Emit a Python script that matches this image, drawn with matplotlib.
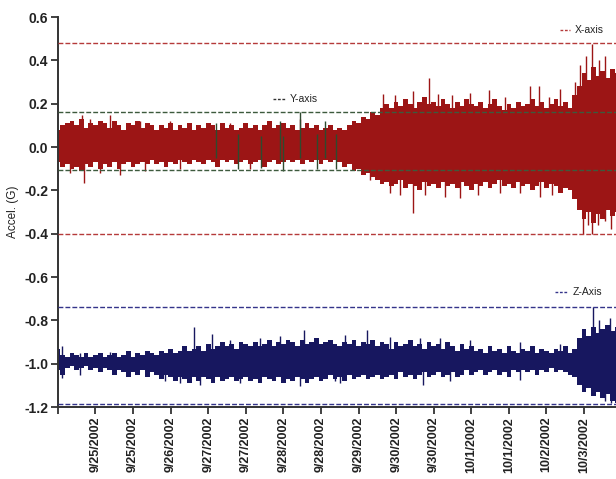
import matplotlib
matplotlib.use("Agg")
import matplotlib.pyplot as plt

# ---------------- data ----------------
# tick positions (index units) and their date labels
tick_pos = list(range(0, 15))
tick_labels = ["", "9/25/2002", "9/25/2002", "9/26/2002", "9/27/2002", "9/27/2002",
               "9/28/2002", "9/28/2002", "9/29/2002", "9/30/2002", "9/30/2002",
               "10/1/2002", "10/1/2002", "10/2/2002", "10/3/2002"]

# sample positions for envelopes (index units, 1/8 tick apart)
env_x = [i * 0.125 for i in range(120)]

# X-axis (red) envelope
x_hi = [0.08, 0.10, 0.11, 0.12, 0.10, 0.13, 0.09, 0.11, 0.10, 0.12,
        0.11, 0.09, 0.12, 0.10, 0.08, 0.11, 0.10, 0.12, 0.09, 0.11,
        0.10, 0.08, 0.10, 0.09, 0.11, 0.08, 0.10, 0.09, 0.11, 0.08,
        0.10, 0.09, 0.11, 0.10, 0.08, 0.11, 0.09, 0.10, 0.08, 0.09,
        0.11, 0.09, 0.10, 0.08, 0.10, 0.12, 0.09, 0.10, 0.11, 0.09,
        0.10, 0.08, 0.09, 0.11, 0.09, 0.10, 0.08, 0.09, 0.10, 0.08,
        0.09, 0.08, 0.10, 0.12, 0.11, 0.14, 0.13, 0.16, 0.15, 0.18,
        0.20, 0.18, 0.21, 0.19, 0.22, 0.20, 0.18, 0.21, 0.23, 0.20,
        0.21, 0.19, 0.22, 0.20, 0.18, 0.21, 0.19, 0.22, 0.20, 0.19,
        0.21, 0.18, 0.20, 0.22, 0.19, 0.17, 0.20, 0.18, 0.21, 0.19,
        0.20, 0.22, 0.19, 0.21, 0.18, 0.20, 0.22, 0.19, 0.21, 0.18,
        0.24, 0.28, 0.34, 0.31, 0.37, 0.33, 0.35, 0.32, 0.36, 0.34]
x_lo = [-0.07, -0.09, -0.08, -0.10, -0.09, -0.11, -0.08, -0.09, -0.07, -0.10,
        -0.08, -0.09, -0.07, -0.10, -0.08, -0.07, -0.09, -0.08, -0.07, -0.08,
        -0.06, -0.08, -0.07, -0.09, -0.07, -0.08, -0.06, -0.07, -0.08, -0.06,
        -0.07, -0.08, -0.06, -0.07, -0.09, -0.06, -0.07, -0.06, -0.08, -0.07,
        -0.06, -0.08, -0.07, -0.06, -0.09, -0.07, -0.06, -0.08, -0.07, -0.06,
        -0.07, -0.06, -0.08, -0.06, -0.07, -0.06, -0.08, -0.06, -0.07, -0.06,
        -0.07, -0.09, -0.08, -0.11, -0.10, -0.13, -0.12, -0.14, -0.15, -0.17,
        -0.16, -0.18, -0.17, -0.15, -0.19, -0.17, -0.18, -0.20, -0.16, -0.18,
        -0.17, -0.19, -0.16, -0.18, -0.17, -0.19, -0.16, -0.18, -0.20, -0.17,
        -0.18, -0.16, -0.19, -0.17, -0.15, -0.18, -0.17, -0.19, -0.16, -0.18,
        -0.17, -0.20, -0.18, -0.16, -0.19, -0.17, -0.18, -0.21, -0.19, -0.20,
        -0.24, -0.29, -0.33, -0.30, -0.35, -0.31, -0.33, -0.29, -0.32, -0.30]
x_spike_pos = [0.64, 0.85, 1.38, 2.18, 2.98, 4.57, 5.64, 6.44, 8.64, 8.96, 9.44, 9.87,
               10.11, 10.48, 10.96, 11.46, 11.89, 12.55, 12.79, 13.06, 13.35, 13.75,
               13.88, 14.04, 14.20, 14.41, 14.57]
x_spike_val = [0.147, 0.13, 0.147, 0.12, 0.12, 0.11, 0.12, 0.13, 0.245, 0.24, 0.26, 0.318,
               0.245, 0.24, 0.25, 0.263, 0.23, 0.28, 0.28, 0.23, 0.27, 0.30,
               0.38, 0.42, 0.475, 0.40, 0.42]
x_dip_pos = [0.32, 0.69, 1.12, 1.65, 2.31, 3.24, 5.11, 8.30, 8.83, 9.10, 9.44, 9.76,
             10.29, 10.69, 11.17, 11.76, 12.29, 12.82, 13.14, 13.96, 14.10, 14.20,
             14.36, 14.55, 14.73]
x_dip_val = [-0.12, -0.166, -0.12, -0.13, -0.11, -0.10, -0.10, -0.15, -0.21, -0.22, -0.305, -0.22,
             -0.23, -0.235, -0.22, -0.21, -0.21, -0.23, -0.22, -0.40, -0.36, -0.40,
             -0.36, -0.34, -0.38]

# Y-axis (dark green) visible spikes (low, high)
y_spike_pos = [4.2, 4.8, 5.4, 5.9, 6.0, 6.44, 6.9, 7.1, 7.4]
y_spike_lo = [-0.05, -0.10, -0.095, -0.06, -0.11, -0.05, -0.10, -0.05, -0.10]
y_spike_hi = [0.11, 0.06, 0.05, 0.12, 0.05, 0.163, 0.06, 0.12, 0.06]

# Z-axis (blue) envelope
z_hi = [-0.93, -0.96, -0.97, -0.95, -0.96, -0.97, -0.95, -0.97, -0.96, -0.95,
        -0.97, -0.96, -0.95, -0.97, -0.96, -0.94, -0.97, -0.95, -0.96, -0.94,
        -0.95, -0.96, -0.94, -0.95, -0.93, -0.95, -0.94, -0.92, -0.94, -0.93,
        -0.92, -0.94, -0.91, -0.93, -0.92, -0.90, -0.92, -0.91, -0.93, -0.90,
        -0.91, -0.92, -0.90, -0.92, -0.91, -0.89, -0.92, -0.90, -0.91, -0.89,
        -0.90, -0.92, -0.89, -0.91, -0.90, -0.88, -0.91, -0.90, -0.89, -0.91,
        -0.92, -0.90, -0.91, -0.89, -0.92, -0.90, -0.91, -0.89, -0.92, -0.90,
        -0.91, -0.93, -0.90, -0.92, -0.91, -0.89, -0.92, -0.91, -0.93, -0.90,
        -0.92, -0.91, -0.93, -0.90, -0.92, -0.94, -0.91, -0.93, -0.92, -0.94,
        -0.93, -0.95, -0.92, -0.94, -0.93, -0.95, -0.92, -0.94, -0.95, -0.93,
        -0.94, -0.92, -0.95, -0.93, -0.94, -0.95, -0.93, -0.94, -0.92, -0.95,
        -0.93, -0.88, -0.84, -0.87, -0.83, -0.86, -0.84, -0.82, -0.85, -0.83]
z_lo = [-1.03, -1.05, -1.02, -1.01, -1.03, -1.02, -1.01, -1.03, -1.02, -1.04,
        -1.02, -1.03, -1.05, -1.03, -1.04, -1.06, -1.04, -1.05, -1.03, -1.06,
        -1.04, -1.05, -1.07, -1.05, -1.06, -1.08, -1.06, -1.07, -1.09, -1.06,
        -1.08, -1.06, -1.07, -1.09, -1.06, -1.08, -1.07, -1.06, -1.08, -1.07,
        -1.06, -1.08, -1.07, -1.09, -1.06, -1.07, -1.08, -1.06, -1.09, -1.07,
        -1.08, -1.06, -1.07, -1.09, -1.07, -1.06, -1.08, -1.07, -1.05, -1.07,
        -1.06, -1.08, -1.05, -1.07, -1.06, -1.05, -1.07, -1.06, -1.05, -1.07,
        -1.06, -1.05, -1.07, -1.04, -1.06, -1.05, -1.07, -1.05, -1.04, -1.06,
        -1.05, -1.04, -1.06, -1.05, -1.04, -1.06, -1.05, -1.03, -1.05, -1.04,
        -1.03, -1.05, -1.04, -1.03, -1.05, -1.04, -1.06, -1.03, -1.04, -1.03,
        -1.04, -1.03, -1.05, -1.03, -1.04, -1.02, -1.04, -1.03, -1.04, -1.05,
        -1.06, -1.10, -1.13, -1.11, -1.15, -1.13, -1.16, -1.14, -1.17, -1.18]
z_spike_pos = [0.11, 0.59, 1.38, 3.62, 4.10, 4.57, 5.37, 5.90, 6.54, 7.63, 8.22, 8.83,
               9.63, 10.16, 10.96, 12.29, 13.35, 14.23, 14.41, 14.68]
z_spike_val = [-0.92, -0.95, -0.945, -0.829, -0.863, -0.89, -0.88, -0.87, -0.844, -0.868, -0.844, -0.875,
               -0.88, -0.88, -0.89, -0.90, -0.91, -0.737, -0.80, -0.79]
z_dip_pos = [0.11, 0.59, 2.85, 3.24, 3.78, 4.84, 6.44, 7.37, 7.50, 9.71, 10.43, 12.29,
             13.88, 14.23, 14.55, 14.73]
z_dip_val = [-1.067, -1.05, -1.08, -1.09, -1.10, -1.09, -1.101, -1.08, -1.09, -1.098, -1.08, -1.075,
             -1.06, -1.113, -1.17, -1.18]

# reference (limit) lines
x_limits = [0.48, -0.40]
y_limits = [0.163, -0.108]
z_limits = [-0.737, -1.186]

# ---------------- styling ----------------
RED = "#9c1515"
GREEN = "#2e4a2e"
BLUE = "#17175f"

plt.rcParams['font.family'] = ['Liberation Sans', 'DejaVu Sans']
fig = plt.figure(figsize=(6.16, 4.79), dpi=100)
ax = fig.add_axes([0.094, 0.150, 0.906, 0.8145])

# X-axis band
ax.fill_between(env_x, x_lo, x_hi, step='mid', color=RED, lw=0, zorder=2)
ax.vlines(x_spike_pos, 0, x_spike_val, color=RED, lw=1.0, zorder=2)
ax.vlines(x_dip_pos, x_dip_val, 0, color=RED, lw=1.0, zorder=2)
# Y-axis visible excursions
ax.vlines(y_spike_pos, y_spike_lo, y_spike_hi, color=GREEN, lw=1.0, zorder=3)

# Z-axis band
ax.fill_between(env_x, z_lo, z_hi, step='mid', color=BLUE, lw=0, zorder=2)
ax.vlines(z_spike_pos, -1.0, z_spike_val, color=BLUE, lw=1.0, zorder=2)
ax.vlines(z_dip_pos, z_dip_val, -1.0, color=BLUE, lw=1.0, zorder=2)

# limit lines
for v in x_limits:
    ax.axhline(v, color="#b53a3a", lw=1.0, dashes=(3.5, 1.5), zorder=4)
for v in y_limits:
    ax.axhline(v, color="#3d5a3d", lw=1.0, dashes=(3.5, 1.5), zorder=4)
for v in z_limits:
    ax.axhline(v, color="#34348a", lw=1.0, dashes=(3.5, 1.5), zorder=4)

# line labels
lab_kw = dict(fontsize=7.5, color="#222222", va="center", ha="left")
ax.plot([13.35, 13.62], [0.54, 0.54], color="#b53a3a", lw=1.0, dashes=(2, 1.2))
ax.text(13.75, 0.54, "X-axis", **lab_kw)
ax.plot([5.72, 6.04], [0.222, 0.222], color="#333333", lw=1.0, dashes=(2, 1.2))
ax.text(6.17, 0.222, "Y-axis", **lab_kw)
ax.plot([13.22, 13.54], [-0.669, -0.669], color="#34348a", lw=1.0, dashes=(2, 1.2))
ax.text(13.70, -0.669, "Z-Axis", **lab_kw)

# axes
ax.set_xlim(0, 14.85)
ax.set_ylim(-1.2, 0.6)
ax.set_yticks([0.6, 0.4, 0.2, 0.0, -0.2, -0.4, -0.6, -0.8, -1.0, -1.2])
ax.set_yticklabels(["0.6", "0.4", "0.2", "0.0", "-0.2", "-0.4", "-0.6", "-0.8", "-1.0", "-1.2"],
                   fontsize=10, fontweight="bold", color="#222222")
ax.set_xticks(tick_pos)
ax.set_xticklabels(tick_labels, rotation=90, fontsize=9, fontweight="bold", color="#222222")
ax.tick_params(direction="out", length=5, width=1.3, color="#333333", pad=2)
for s in ["top", "right"]:
    ax.spines[s].set_visible(False)
for s in ["left", "bottom"]:
    ax.spines[s].set_color("#333333")
    ax.spines[s].set_linewidth(1.4)
ax.set_ylabel("Accel. (G)", fontsize=8.5, color="#222222", labelpad=4)

fig.savefig("out.png", dpi=100)
